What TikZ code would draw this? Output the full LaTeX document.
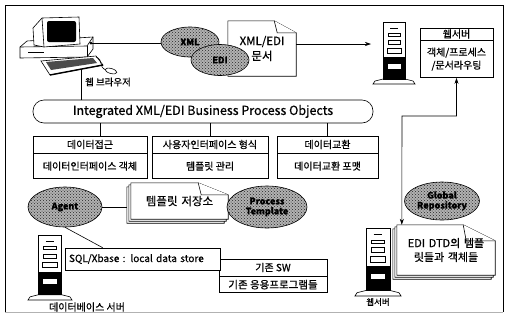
\documentclass[tikz,border=0pt]{standalone}
\usepackage{fontspec}
\setmainfont{Noto Sans CJK KR}[FakeBold=0.6]
\usetikzlibrary{shapes.geometric, arrows.meta, positioning, patterns}

\pgfdeclarelayer{paper}
\pgfsetlayers{paper,main}

% sheet with a dog-ear: [offset]{node}{fold width}{fold height}
\newcommand{\sheet}[4][0pt]{%
  \draw[wire, fill=white]
    ([xshift=-#1, yshift=-#1]#2.south west) -- ([xshift=-#1, yshift=-#1]#2.north west)
    -- ([xshift=-#1-#3, yshift=-#1]#2.north east) -- ([xshift=-#1, yshift=-#1-#4]#2.north east)
    -- ([xshift=-#1, yshift=-#1]#2.south east) -- cycle;}
\newcommand{\fold}[3]{%
  \draw[wire, fill=white] ([xshift=-#2]#1.north east) -- ([xshift=-#2+3pt, yshift=-#3]#1.north east)
    -- ([yshift=-#3]#1.north east);}

\tikzset{
  wire/.style={line width=0.6pt},
  cell/.style={draw, wire, fill=white, inner sep=1pt, font=\fontsize{10}{12}\selectfont},
  blob/.style={ellipse, draw, wire, preaction={fill=black!30}, pattern=crosshatch dots,
    pattern color=black!85, align=center, inner sep=0pt, font=\bfseries\fontsize{9}{10}\selectfont},
  paperbox/.style={rectangle, inner sep=0pt, text width=#1, align=center, font=\fontsize{11}{15}\selectfont},
  caption/.style={inner sep=1pt, font=\fontsize{9.5}{11}\selectfont},
  link/.style={wire, -{Stealth[length=6pt, width=4pt]}},
  tower/.pic={
    % foot
    \draw[wire, fill=white] (-21,0) -- (21,0) -- (19,-3) -- (11,-5) -- (-11,-5) -- (-19,-3) -- cycle;
    % cabinet
    \draw[wire, fill=white] (-11,-5) rectangle (11,-62);
    \fill (-11,-5) rectangle (11,-27);
    \draw[wire, fill=white] (-7,-15) rectangle (7,-21);
    \draw[wire] (-7,-31) rectangle (7,-36);
    \draw[wire] (-6,-40) rectangle (6,-44);
    \draw[wire] (-6,-48) rectangle (6,-51);
    \draw[wire] (-4,-56) -- (4,-56);
    \coordinate (-west) at (-11,-40);
  }
}

\begin{document}
\begin{tikzpicture}[x=1pt, y=-1pt]
\useasboundingbox (0,0) rectangle (508,322);
\draw[line width=1pt] (5,5) -- (5,312);
\draw[line width=1pt] (5,5) -- (503,5) -- (503,312);
\draw[black!30] (5,312) -- (503,312);

% browser PC
\draw[wire, fill=white] (20,47) -- (27,41) -- (93,37) -- (93,49) -- (87,57) -- (20,58) -- cycle;
\draw[wire] (20,47) -- (87,46) -- (93,37);
\draw[wire] (87,46) -- (87,57);
\draw[wire] (28,52) -- (44,52);
\draw[wire, fill=white] (33,28) -- (42,18) -- (79,17) -- (80,44) -- (44,47) -- (34,45) -- cycle;
\draw[wire] (42,18) -- (44,47);
\fill[rounded corners=2pt] (47,21) rectangle (76,42);
\draw[wire, fill=white] (41,61) -- (96,56) -- (103,65) -- (50,75) -- cycle;
\fill[black!70] (46,62) -- (93,58) -- (97,63) -- (51,70) -- cycle;
\draw[line width=1.4pt] (50,75) -- (103,65);
\draw[wire] (96,57) .. controls (104,60) and (98,67) .. (106,70);
\draw[wire, fill=white, rotate around={-15:(111,71)}] (111,71) ellipse [x radius=6pt, y radius=2.5pt];
\fill (91,43) circle [radius=1.5pt];
\coordinate (pcport) at (91,43);
\coordinate (pcfoot) at (81,69);
\node[caption] (browser) at (108,82) {웹 브라우저};

% documents going out
\node[blob, minimum width=58pt, minimum height=30pt] (xml) at (190,42) {XML};
\node[paperbox=68pt, minimum height=55pt, font=\fontsize{11.5}{15}\selectfont] (xmldoc) at (262,48.5) {XML/EDI\\문서};
\node[blob, minimum width=58pt, minimum height=31pt] (edi) at (220,60) {EDI};
\draw[wire] (pcport) -- (pcport -| xml.west);

\pic (srvA) at (394,84) {tower};
\draw[link] (xmldoc.east |- srvA-west) -- ([xshift=-12pt]srvA-west);

\node[cell, minimum width=73pt, minimum height=12pt] (webhead) at (456.5,34) {웹서버};
\node[cell, minimum width=73pt, minimum height=37pt, align=center, below=0pt of webhead,
  font=\fontsize{10}{13}\selectfont] (webbody) {객체/프로세스\\/문서라우팅};

% object layer
\node[draw, wire, rounded corners=11pt, minimum width=340pt, minimum height=23pt,
  font=\fontsize{12.5}{14}\selectfont] (bus) at (203,111.5) {Integrated XML/EDI Business Process Objects};
\draw[wire] (pcfoot) -- (pcfoot |- bus.north);

\node[cell, minimum width=114pt, minimum height=17pt] (accHead) at (90,144.5) {데이터접근};
\node[cell, minimum width=114pt, minimum height=25pt, below=0pt of accHead] (accBody) {데이터인터페이스 객체};
\node[cell, minimum width=116pt, minimum height=17pt] (uiHead) at (210,144.5) {사용자인터페이스 형식};
\node[cell, minimum width=116pt, minimum height=25pt, below=0pt of uiHead] (uiBody) {템플릿 관리};
\node[cell, minimum width=101pt, minimum height=17pt] (xchHead) at (327.5,144.5) {데이터교환};
\node[cell, minimum width=101pt, minimum height=25pt, below=0pt of xchHead] (xchBody) {데이터교환 포맷};

\draw[wire] ([xshift=10pt]accHead.north) -- ([xshift=10pt]accHead.north |- bus.south);
\draw[wire] (uiHead.north) -- (uiHead.north |- bus.south);
\draw[wire] (xchHead.north) -- (xchHead.north |- bus.south);

% local side
\node[paperbox=97pt, minimum height=36pt, font=\fontsize{11.5}{15}\selectfont] (tpl) at (179.5,201) {템플릿 저장소};
\node[blob, minimum width=74pt, minimum height=40pt] (agent) at (65,207) {Agent};
\node[blob, minimum width=80pt, minimum height=42pt] (proc) at (267,207) {Process\\Template};
\draw[wire] (agent.east) -- ([xshift=-4pt]tpl.west |- agent.east);

\node[cell, minimum width=108pt, minimum height=17pt] (swHead) at (273,267.5) {기존 SW};
\node[cell, minimum width=108pt, minimum height=16pt, below=0pt of swHead,
  font=\fontsize{10.5}{12}\selectfont] (swBody) {기존 응용프로그램들};
\node[cell, minimum width=155pt, minimum height=22pt, text width=147pt, align=left] (sql) at (142.5,259)
  {SQL/Xbase : local data store};
\draw[wire] (agent.south) -- ([xshift=38pt]sql.north west);

\pic[scale=1.05] (srvC) at (50,300) {tower};
\node[caption, font=\fontsize{10}{12}\selectfont] (dbname) at (87,307) {데이터베이스 서버};

% remote side
\node[blob, minimum width=75pt, minimum height=38pt] (repo) at (442,201) {Global\\Repository};
\node[paperbox=98pt, minimum height=50pt, font=\fontsize{11}{14}\selectfont] (dtd) at (446,250)
  {EDI DTD의 템플\\릿들과 객체들};
\pic[scale=1.1] (srvB) at (378,296) {tower};
\node[caption, font=\fontsize{8.5}{10}\selectfont] (webname) at (378,302) {웹서버};

\coordinate (hop) at (402,116);
\draw[wire, {Stealth[length=6pt, width=4pt]}-{Stealth[length=6pt, width=4pt]}]
  ([xshift=5pt]dtd.north west) -- (hop) -| (webbody.south);

% paper outlines behind the texts
\begin{pgfonlayer}{paper}
  \sheet{xmldoc}{22pt}{12pt}
  \fold{xmldoc}{22pt}{12pt}
  \sheet[4pt]{tpl}{30pt}{12pt}
  \sheet[2pt]{tpl}{30pt}{12pt}
  \sheet{tpl}{30pt}{12pt}
  \fold{tpl}{30pt}{12pt}
  \sheet[4pt]{dtd}{32pt}{16pt}
  \sheet[2pt]{dtd}{32pt}{16pt}
  \sheet{dtd}{32pt}{16pt}
  \fold{dtd}{32pt}{16pt}
\end{pgfonlayer}
\end{tikzpicture}
\end{document}
